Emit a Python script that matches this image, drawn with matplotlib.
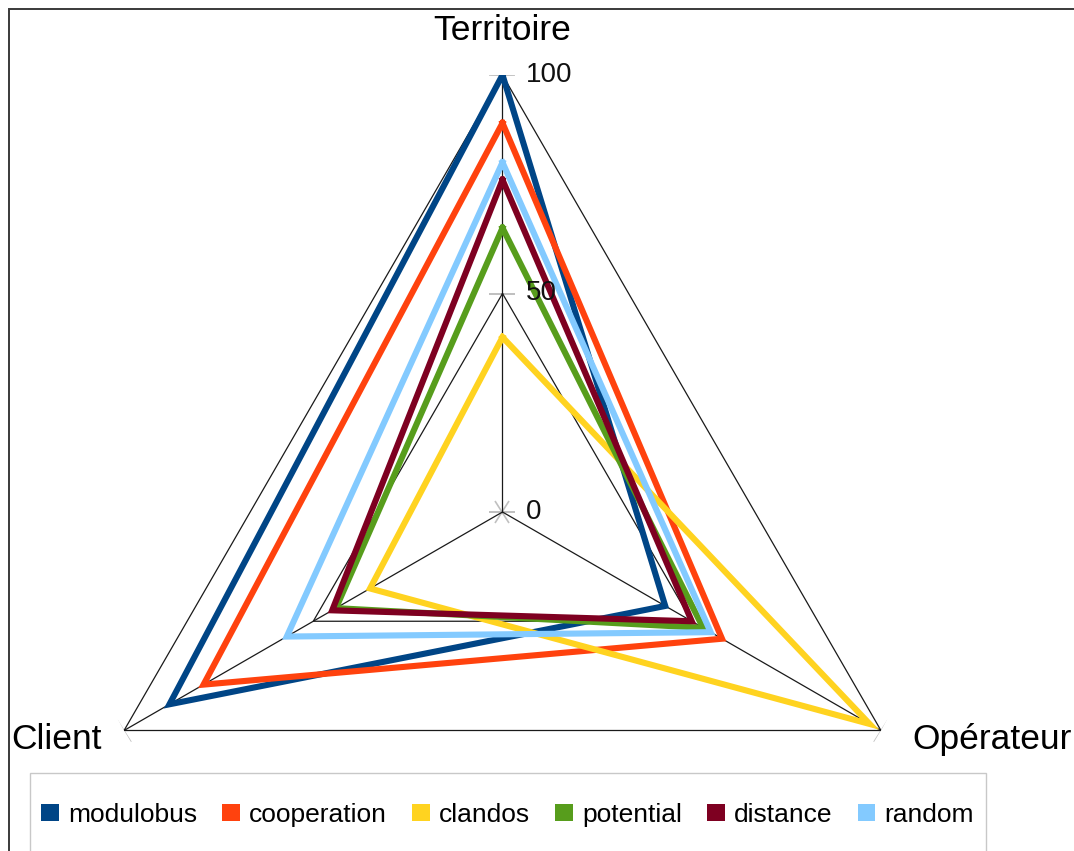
import numpy as np
import matplotlib
matplotlib.use("Agg")
import matplotlib.pyplot as plt
from matplotlib.patches import Rectangle, Patch
from matplotlib.markers import MarkerStyle
from matplotlib.transforms import Affine2D

plt.rcParams['font.family'] = ['Liberation Sans', 'DejaVu Sans']

# Radar axes (clockwise from the top)
axes_labels = ["Territoire", "Opérateur", "Client"]

series_names = ["modulobus", "cooperation", "clandos", "potential", "distance", "random"]
modulobus = [100, 43, 88]
cooperation = [89, 58, 79]
clandos = [40, 97, 35]
potential = [65, 53, 44]
distance = [76, 50, 45]
random_ = [80, 55, 57]
series_values = [modulobus, cooperation, clandos, potential, distance, random_]
series_colors = ["#004586", "#ff420e", "#ffd320", "#579d1c", "#7e0021", "#83caff"]

grid_levels = [50, 100]
tick_values = [0, 50, 100]
r_max = 100

W, H, DPI = 1074, 851, 100
fig = plt.figure(figsize=(W / DPI, H / DPI), dpi=DPI)

# polar axes placed so the centre sits at (502, 512) px with a 437 px radius
cx, cy, R = 502.5, 512.0, 437.0
ax = fig.add_axes([(cx - R) / W, (H - cy - R) / H, 2 * R / W, 2 * R / H],
                  projection="polar")
ax.set_theta_offset(np.pi / 2)
ax.set_theta_direction(-1)
ax.set_ylim(0, r_max)
ax.grid(False)
ax.set_xticks([])
ax.set_yticks([])
ax.spines["polar"].set_visible(False)
ax.patch.set_visible(False)

n = len(axes_labels)
theta = np.arange(n) * 2 * np.pi / n
theta_closed = np.append(theta, theta[0])

# triangular grid and spokes
for lvl in grid_levels:
    ax.plot(theta_closed, [lvl] * (n + 1), color="#1a1a1a", lw=0.9, zorder=1)
for t in theta:
    ax.plot([t, t], [0, r_max], color="#1a1a1a", lw=0.9, zorder=1)

# small grey tick marks
tick_grey = "#c0c0c0"
for v in tick_values:
    ax.plot([0], [v], marker="_", markersize=19, color=tick_grey, mew=1.2, zorder=0.5)
ax.plot([0], [0], marker=MarkerStyle("_", transform=Affine2D().rotate_deg(60)),
        markersize=19, color=tick_grey, mew=1.2, zorder=0.5)
ax.plot([0], [0], marker=MarkerStyle("_", transform=Affine2D().rotate_deg(-60)),
        markersize=19, color=tick_grey, mew=1.2, zorder=0.5)
ax.plot([theta[1]], [r_max], marker=MarkerStyle("_", transform=Affine2D().rotate_deg(60)),
        markersize=19, color=tick_grey, mew=1.2, zorder=0.5)
ax.plot([theta[2]], [r_max], marker=MarkerStyle("_", transform=Affine2D().rotate_deg(-60)),
        markersize=19, color=tick_grey, mew=1.2, zorder=0.5)

# data series
for name, vals, col in zip(series_names, series_values, series_colors):
    ax.plot(theta_closed, list(vals) + [vals[0]], color=col, lw=4.4,
            solid_joinstyle="miter", zorder=3, label=name)

# radial value labels
for v in tick_values:
    ax.annotate(str(v), xy=(0, v), xytext=(23, 0), textcoords="offset pixels",
                ha="left", va="center", fontsize=20, color="#111111", zorder=4)

# axis titles
ax.annotate(axes_labels[0], xy=(theta[0], r_max), xytext=(0, 44), textcoords="offset pixels",
            ha="center", va="center", fontsize=25.5, annotation_clip=False)
ax.annotate(axes_labels[1], xy=(theta[1], r_max), xytext=(31, -9), textcoords="offset pixels",
            ha="left", va="center", fontsize=25.5, annotation_clip=False)
ax.annotate(axes_labels[2], xy=(theta[2], r_max), xytext=(-22, -9), textcoords="offset pixels",
            ha="right", va="center", fontsize=25.5, annotation_clip=False)

# outer frame of the chart
fig.patches.append(Rectangle((9 / W, -0.05), 1.1, (H - 9) / H + 0.05,
                             transform=fig.transFigure, fill=False,
                             edgecolor="#3a3a3a", lw=1.4))

# legend box and entries
fig.patches.append(Rectangle((30 / W, -0.05), (986 - 30) / W, (H - 773) / H + 0.05,
                             transform=fig.transFigure, fill=False,
                             edgecolor="#c8c8c8", lw=1.0))
handles = [Patch(facecolor=c, edgecolor="none", label=s)
           for s, c in zip(series_names, series_colors)]
fig.legend(handles=handles, loc="center", bbox_to_anchor=(507.5 / W, (H - 815) / H),
           ncol=6, frameon=False, fontsize=19, handlelength=0.68, handleheight=0.64,
           handletextpad=0.34, columnspacing=0.95, borderpad=0, borderaxespad=0)

fig.savefig("out.png", dpi=DPI)
